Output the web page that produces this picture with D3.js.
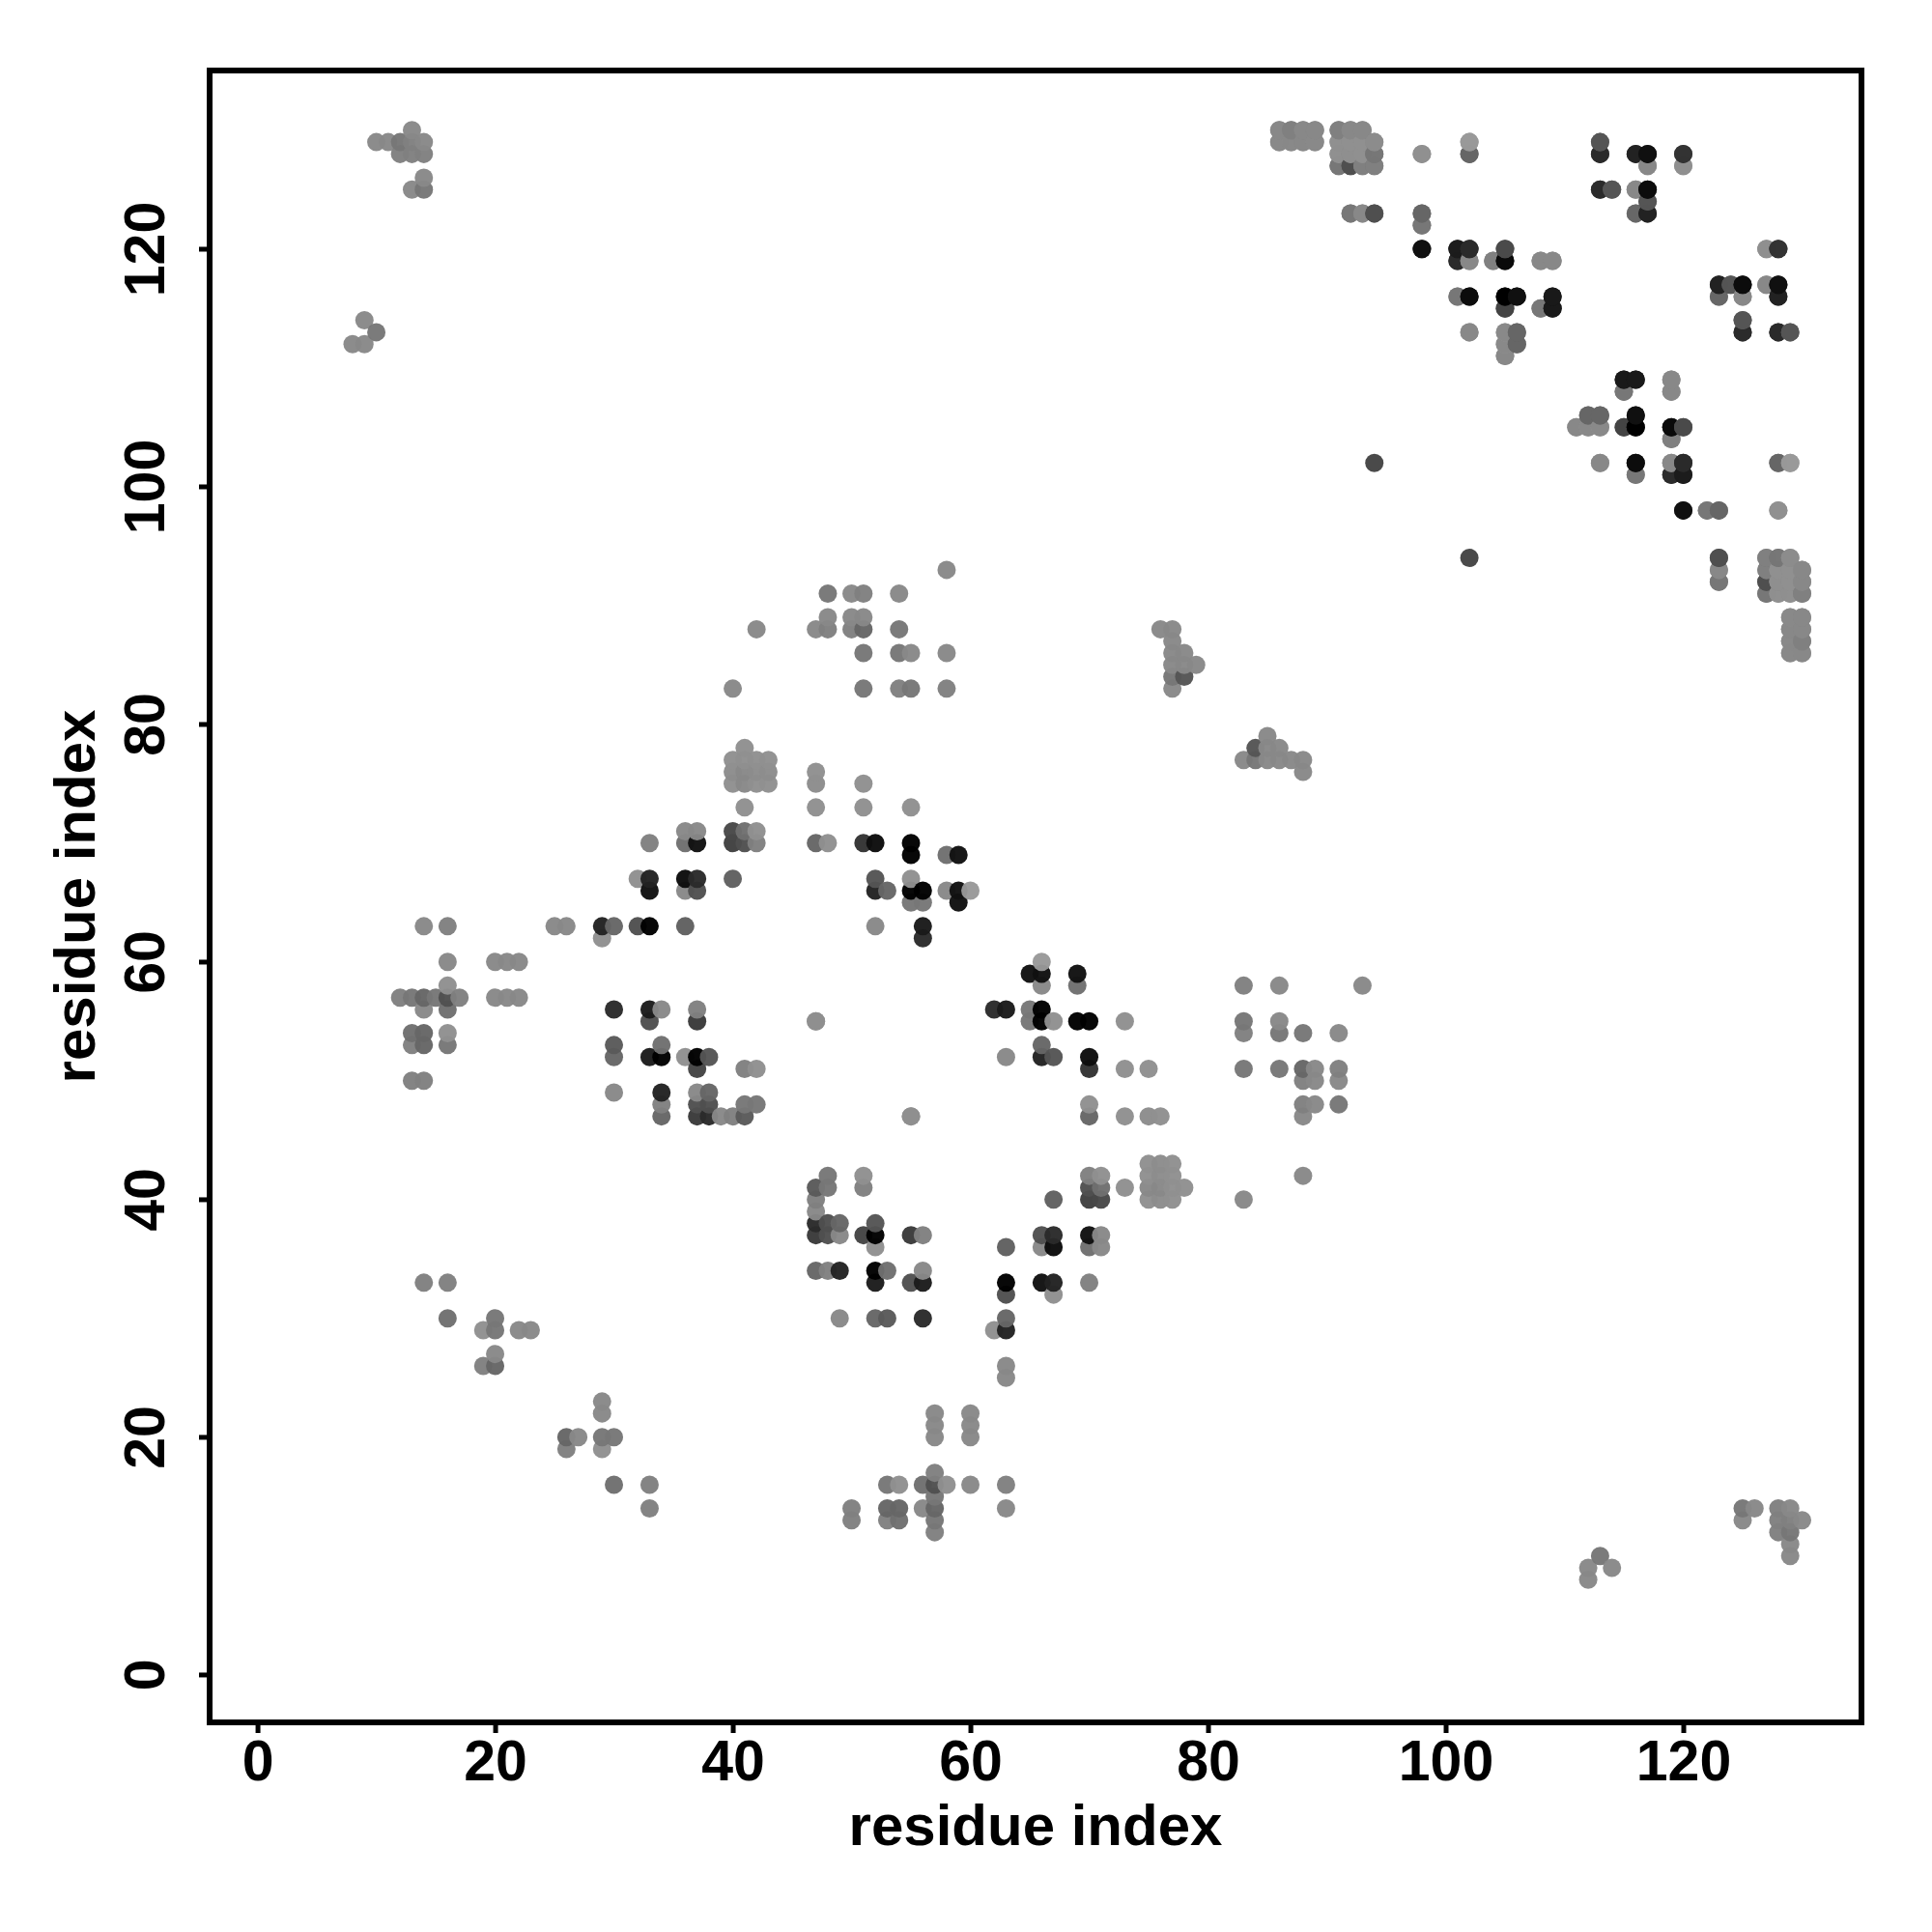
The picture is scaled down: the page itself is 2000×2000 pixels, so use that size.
<!DOCTYPE html>
<html><head><meta charset="utf-8">
<script src="https://cdnjs.cloudflare.com/ajax/libs/d3/7.8.5/d3.min.js"></script>
<style>html,body{margin:0;background:#fff}svg{display:block}text{font-family:"Liberation Sans",Arial,sans-serif;font-weight:bold;fill:#000}</style>
</head><body><div id="c"></div>
<script>
// Contacts as [residue i, residue j, grey level]; the map is symmetric, each is drawn at (i,j) and (j,i).
const termini=[[13,130,0x88],[10,129,0x88],[11,129,0x88],[12,129,0x77],[13,129,0x80],[14,129,0x88],[12,128,0x80],[13,128,0x80],[14,128,0x80],[14,126,0x88],[13,125,0x88],[14,125,0x77],[9,114,0x88],[10,113,0x77],[8,112,0x88],[9,112,0x88]];
const cTermTop=[[86,130,0x88],[87,130,0x80],[88,130,0x84],[89,130,0x84],[91,130,0x80],[92,130,0x88],[93,130,0x88],[86,129,0x8c],[87,129,0x8c],[88,129,0x84],[89,129,0x90],[91,129,0x8c],[92,129,0x90],[93,129,0x90],[94,129,0x88],[91,128,0x8c],[92,128,0x88],[93,128,0x90],[94,128,0x70],[98,128,0x90],[102,129,0x90],[102,128,0x66],[91,127,0x77],[92,127,0x50],[93,127,0x80],[94,127,0x77],[92,123,0x77],[93,123,0x88],[94,123,0x4a],[98,123,0x66],[98,122,0x77],[98,120,0x11]];
const helixD=[[101,120,0x1c],[101,119,0x33],[102,120,0x2a],[102,119,0x88],[104,119,0x80],[105,120,0x50],[105,119,0x0a],[108,119,0x88],[109,119,0x88],[101,116,0x88],[102,116,0x0a],[105,116,0x00],[106,116,0x0c],[109,116,0x14],[105,115,0x33],[108,115,0x77],[109,115,0x11],[102,113,0x88],[105,113,0x99],[106,113,0x66],[105,112,0x99],[106,112,0x66],[105,111,0x88]];
const helixE=[[113,129,0x66],[113,128,0x22],[116,128,0x2a],[117,128,0x11],[117,127,0x88],[120,128,0x33],[120,127,0x88],[113,125,0x33],[114,125,0x66],[116,125,0x88],[117,125,0x0a],[117,124,0x55],[116,123,0x77],[117,123,0x1c],[127,120,0x8f],[128,120,0x33],[123,117,0x22],[124,117,0x55],[125,117,0x0c],[127,117,0x88],[128,117,0x11],[123,116,0x66],[125,116,0x88],[128,116,0x22],[125,114,0x55],[125,113,0x2a],[128,113,0x2a],[129,113,0x55]];
const helixF=[[115,109,0x1a],[116,109,0x1a],[119,109,0x88],[115,108,0x77],[119,108,0x88],[112,106,0x66],[113,106,0x66],[116,106,0x11],[111,105,0x88],[112,105,0x88],[113,105,0x88],[115,105,0x44],[116,105,0x00],[119,105,0x0a],[120,105,0x4a],[119,104,0x80],[113,102,0x88],[116,102,0x0c],[119,102,0x88],[120,102,0x2a],[128,102,0x66],[129,102,0x99],[116,101,0x77],[119,101,0x2a],[120,101,0x1c],[120,98,0x11],[122,98,0x77],[123,98,0x66],[128,98,0x90],[94,102,0x44],[123,94,0x4f],[123,93,0x88],[123,92,0x77]];
const cTermBlock=[[127,94,0x80],[128,94,0x77],[129,94,0x8c],[127,93,0x80],[128,93,0x90],[129,93,0x90],[130,93,0x88],[127,92,0x50],[128,92,0x90],[129,92,0x90],[130,92,0x88],[127,91,0x77],[128,91,0x90],[129,91,0x90],[130,91,0x80],[129,89,0x88],[130,89,0x88],[129,88,0x88],[130,88,0x88],[129,87,0x88],[130,87,0x80],[129,86,0x88],[130,86,0x88]];
const midFar=[[58,93,0x88],[48,91,0x77],[50,91,0x88],[51,91,0x80],[54,91,0x88],[48,89,0x88],[50,89,0x88],[51,89,0x88],[42,88,0x88],[47,88,0x88],[48,88,0x80],[50,88,0x80],[51,88,0x66],[54,88,0x77],[51,86,0x77],[54,86,0x77],[55,86,0x88],[58,86,0x88],[40,83,0x88],[51,83,0x77],[54,83,0x80],[55,83,0x77],[58,83,0x80]];
const strandPair=[[76,88,0x88],[77,88,0x88],[77,87,0x88],[77,86,0x88],[78,86,0x88],[77,85,0x88],[78,85,0x88],[79,85,0x88],[77,84,0x77],[78,84,0x55],[77,83,0x88]];
const block40=[[41,78,0x90],[40,77,0x90],[41,77,0x90],[42,77,0x90],[43,77,0x90],[40,76,0x8c],[41,76,0x88],[42,76,0x8c],[43,76,0x8c],[40,75,0x90],[41,75,0x88],[42,75,0x90],[43,75,0x90],[41,73,0x90],[47,76,0x90],[47,75,0x8c],[51,75,0x90],[47,73,0x90],[51,73,0x90],[55,73,0x90]];
const row7071=[[36,71,0x88],[37,71,0x88],[40,71,0x48],[41,71,0x70],[42,71,0x90],[33,70,0x80],[36,70,0x70],[37,70,0x11],[40,70,0x40],[41,70,0x50],[42,70,0x80],[47,70,0x66],[48,70,0x90],[51,70,0x33],[52,70,0x0c],[55,70,0x00],[55,69,0x00],[58,69,0x70],[59,69,0x11]];
const row6567=[[32,67,0x90],[33,67,0x22],[36,67,0x0c],[37,67,0x2a],[40,67,0x60],[52,67,0x55],[55,67,0x90],[33,66,0x11],[36,66,0x88],[37,66,0x50],[52,66,0x22],[53,66,0x66],[55,66,0x00],[56,66,0x00],[58,66,0x88],[59,66,0x11],[60,66,0x99],[55,65,0x77],[56,65,0x77],[59,65,0x11]];
const row6263=[[25,63,0x88],[26,63,0x88],[29,63,0x22],[30,63,0x66],[32,63,0x50],[33,63,0x00],[36,63,0x60],[52,63,0x88],[56,63,0x1a],[29,62,0x90],[56,62,0x2a],[14,63,0x88],[16,63,0x80]];
const nTermMid=[[16,60,0x88],[20,60,0x88],[21,60,0x88],[22,60,0x88],[16,58,0x90],[12,57,0x80],[13,57,0x77],[14,57,0x66],[15,57,0x77],[16,57,0x50],[17,57,0x80],[20,57,0x88],[21,57,0x88],[22,57,0x88],[14,56,0x88],[16,56,0x70],[13,54,0x70],[14,54,0x66],[16,54,0x90],[13,53,0x80],[14,53,0x66],[16,53,0x77],[13,50,0x80],[14,50,0x80]];
const row5556=[[30,56,0x2a],[33,56,0x1c],[34,56,0x88],[37,56,0x80],[47,55,0x88],[33,55,0x50],[37,55,0x3a],[30,53,0x5a],[34,53,0x70],[30,52,0x66],[33,52,0x1c],[34,52,0x00],[36,52,0x90],[37,52,0x00],[38,52,0x55],[37,51,0x44],[41,51,0x80],[42,51,0x90]];
const row4749=[[30,49,0x88],[34,49,0x22],[37,49,0x88],[38,49,0x66],[34,48,0x80],[37,48,0x50],[38,48,0x50],[41,48,0x77],[42,48,0x77],[34,47,0x66],[37,47,0x3a],[38,47,0x2a],[39,47,0x88],[40,47,0x80],[41,47,0x5a],[55,47,0x90]];
const lowContacts=[[14,33,0x80],[16,33,0x80],[16,30,0x70],[19,29,0x90],[20,30,0x77],[20,29,0x77],[22,29,0x88],[23,29,0x88],[20,27,0x88],[19,26,0x80],[20,26,0x66]];

const xTicks=[0,20,40,60,80,100,120];
const yTicks=[0,20,40,60,80,100,120];
const axisTitle="residue index";

const upper=[].concat(termini,cTermTop,helixD,helixE,helixF,cTermBlock,midFar,strandPair,block40,row7071,row6567,row6263,nTermMid,row5556,row4749,lowContacts);
const marks=upper.flatMap(([i,j,g])=>[{x:i,y:j,g},{x:j,y:i,g}]).sort((a,b)=>d3.ascending(a.x,b.x)||d3.ascending(a.y,b.y));

const W=2000,H=2000,L=217,R=1927,T=73,B=1783;
const x=d3.scaleLinear().domain([-4.03,135.0]).range([L,R]);
const y=d3.scaleLinear().domain([-4.03,135.0]).range([B,T]);
const svg=d3.select("#c").append("svg").attr("width",W).attr("height",H);
svg.append("rect").attr("width",W).attr("height",H).attr("fill","#fff");
svg.append("g").selectAll("circle").data(marks).join("circle")
  .attr("cx",d=>x(d.x)).attr("cy",d=>y(d.y)+0.3).attr("r",9.5)
  .attr("fill",d=>d3.rgb(d.g,d.g,d.g)).attr("fill-opacity",0.97);
svg.append("rect").attr("x",L).attr("y",T).attr("width",R-L).attr("height",B-T).attr("fill","none").attr("stroke","#000").attr("stroke-width",6);

const gx=svg.append("g").attr("transform",`translate(0,${B})`).call(d3.axisBottom(x).tickValues(xTicks).tickSize(11).tickPadding(7).tickFormat(d3.format("d")));
const gy=svg.append("g").attr("transform",`translate(${L},0)`).call(d3.axisLeft(y).tickValues(yTicks).tickSize(11).tickPadding(7).tickFormat(d3.format("d")));
[gx,gy].forEach(g=>{g.select(".domain").remove();g.selectAll("line").attr("stroke","#000").attr("stroke-width",5);g.selectAll("text").style("font-size","59px").style("font-family",'"Liberation Sans"').style("font-weight","bold");});
gy.selectAll("text").attr("transform","rotate(-90)").attr("x",0).attr("y",-47).attr("dy",0).attr("text-anchor","middle");
gx.selectAll("text").attr("dy","0.71em");
svg.append("text").attr("x",1072).attr("y",1910).attr("text-anchor","middle").style("font-size","60px").text(axisTitle);
svg.append("text").attr("transform",`translate(98,928) rotate(-90)`).attr("text-anchor","middle").style("font-size","60px").text(axisTitle);
</script></body></html>
